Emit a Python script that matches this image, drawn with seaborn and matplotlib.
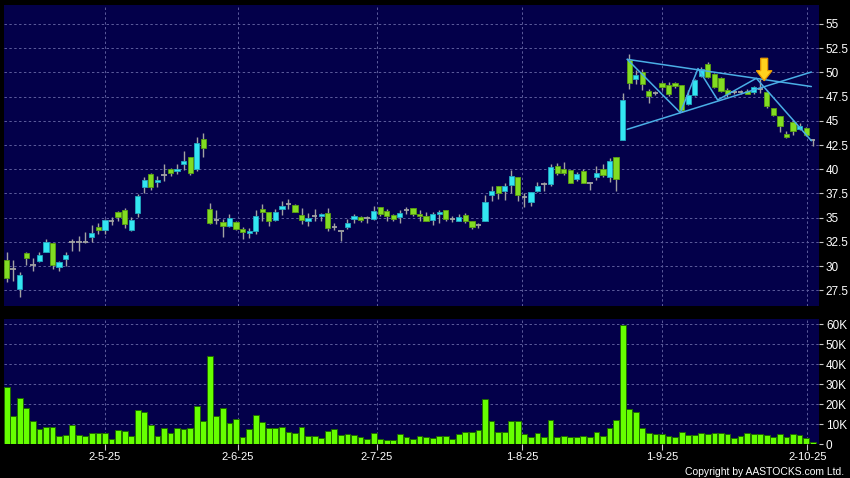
import numpy as np
import pandas as pd
import matplotlib
matplotlib.use("Agg")
import matplotlib.pyplot as plt
import seaborn as sns

# ---------------- data ----------------
opens = [30.6, 29.7, 27.6, 31.3, 30.1, 30.5, 31.4, 32.4, 29.9, 30.7,
         32.5, 32.5, 32.5, 33.0, 34.0, 33.7, 34.7, 35.6, 35.8, 33.7,
         35.45, 38.2, 39.55, 38.7, 39.4, 40.0, 39.85, 40.5, 41.3, 40.05,
         43.1, 35.9, 34.8, 34.5, 34.1, 34.5, 33.85, 33.4, 33.6, 35.9,
         35.6, 34.8, 35.9, 36.4, 36.35, 35.3, 34.65, 35.15, 35.15, 35.5,
         34.0, 33.6, 34.0, 34.85, 35.1, 35.0, 34.9, 36.05, 35.7, 35.3,
         35.1, 35.75, 35.95, 35.4, 35.2, 34.8, 35.4, 35.8, 34.85, 34.7,
         35.3, 34.6, 34.25, 34.6, 37.3, 38.3, 37.8, 38.4, 39.15, 37.1,
         36.65, 37.8, 38.45, 38.45, 40.35, 40.0, 39.9, 38.95, 39.8, 38.6,
         39.15, 40.0, 39.15, 41.3, 43.0, 51.25, 49.3, 50.0, 48.05, 47.9,
         48.9, 48.7, 48.9, 48.7, 46.75, 47.7, 49.6, 50.9, 49.8, 49.4,
         48.2, 48.0, 48.0, 48.1, 47.95, 48.3, 47.95, 46.3, 45.45, 43.65,
         44.85, 44.2, 44.3, 43.05]
highs = [31.5, 30.6, 29.4, 31.5, 30.8, 31.5, 32.8, 32.4, 30.5, 31.4,
         32.8, 33.1, 33.5, 34.2, 34.4, 34.9, 35.1, 35.7, 36.0, 35.1,
         37.4, 39.2, 39.6, 39.3, 40.5, 40.1, 40.5, 41.9, 41.3, 43.3,
         43.7, 36.5, 35.8, 34.9, 35.4, 34.65, 34.0, 33.95, 35.8, 36.4,
         35.6, 35.9, 36.7, 36.9, 36.45, 36.0, 35.5, 35.9, 35.5, 35.95,
         34.45, 33.6, 34.85, 35.35, 35.2, 35.2, 36.25, 36.1, 35.9, 35.4,
         35.8, 36.1, 35.95, 35.75, 35.6, 35.6, 35.8, 35.8, 35.2, 35.35,
         35.5, 34.7, 34.45, 37.35, 38.3, 38.3, 38.55, 39.9, 39.15, 37.5,
         37.65, 38.7, 38.7, 40.5, 40.6, 40.7, 39.9, 39.7, 40.0, 38.7,
         40.3, 40.5, 41.2, 41.3, 47.85, 51.9, 50.2, 50.35, 48.25, 48.1,
         49.05, 49.05, 49.05, 48.7, 48.2, 49.3, 50.6, 51.1, 49.95, 49.5,
         48.4, 48.2, 48.2, 48.3, 48.6, 49.3, 48.2, 46.3, 45.5, 43.9,
         45.05, 44.75, 44.4, 43.15]
lows = [28.3, 28.5, 26.8, 30.1, 29.5, 30.4, 31.4, 29.7, 29.5, 30.0,
        31.6, 31.6, 32.4, 32.5, 33.3, 33.3, 34.2, 34.7, 33.9, 33.6,
        35.1, 37.5, 37.85, 38.2, 38.75, 39.3, 39.5, 39.9, 39.4, 39.85,
        41.3, 34.3, 34.3, 33.0, 34.0, 33.7, 32.8, 32.9, 33.3, 34.6,
        34.1, 34.65, 35.3, 35.9, 35.55, 34.3, 34.1, 34.65, 34.65, 33.6,
        33.7, 32.6, 33.8, 34.45, 34.5, 34.45, 34.8, 35.2, 34.65, 34.65,
        34.45, 35.4, 35.15, 34.65, 34.65, 34.25, 34.45, 34.7, 34.5, 34.65,
        34.4, 33.8, 33.95, 34.6, 36.75, 36.95, 36.8, 37.5, 36.75, 36.1,
        36.25, 37.65, 37.7, 38.25, 39.4, 39.4, 38.55, 38.8, 38.55, 37.85,
        38.9, 39.15, 38.7, 37.8, 43.0, 48.3, 48.8, 48.15, 46.8, 47.7,
        48.2, 47.6, 48.35, 45.95, 46.65, 47.6, 49.5, 49.4, 48.35, 47.95,
        47.5, 47.8, 47.8, 47.85, 47.8, 47.85, 46.3, 45.45, 43.8, 43.2,
        43.55, 44.05, 43.4, 42.4]
closes = [28.8, 29.7, 29.1, 30.8, 30.1, 31.1, 32.5, 30.1, 30.4, 31.1,
          32.5, 32.5, 32.5, 33.4, 33.7, 34.8, 34.7, 35.1, 34.3, 34.8,
          37.2, 38.9, 38.2, 38.9, 39.4, 39.6, 40.05, 40.9, 39.6, 42.75,
          42.2, 34.4, 34.8, 34.1, 35.0, 33.8, 33.5, 33.6, 35.2, 35.6,
          34.6, 35.55, 36.25, 36.4, 35.6, 34.8, 35.0, 35.15, 35.35, 33.95,
          34.0, 33.6, 34.4, 35.15, 34.8, 35.0, 35.65, 35.4, 35.2, 34.85,
          35.5, 35.75, 35.4, 35.2, 34.7, 35.4, 35.6, 34.85, 34.85, 35.05,
          34.6, 34.0, 34.25, 36.65, 37.7, 37.5, 38.25, 39.3, 37.3, 37.1,
          37.65, 38.25, 38.45, 40.2, 39.6, 39.65, 38.6, 39.5, 38.6, 38.6,
          39.6, 39.45, 40.85, 39.0, 47.15, 48.95, 49.7, 48.8, 47.6, 47.9,
          48.5, 47.8, 48.55, 46.15, 47.7, 49.25, 50.35, 49.5, 48.5, 48.05,
          47.8, 48.0, 48.0, 47.8, 48.45, 48.3, 46.5, 45.6, 44.5, 43.3,
          43.9, 44.5, 43.55, 43.05]
volumes_k = [28.5, 14.2, 22.9, 18.1, 11.4, 7.4, 8.7, 8.4, 4.0, 4.7,
             9.7, 4.5, 3.9, 5.4, 5.4, 5.7, 2.7, 7.0, 6.7, 4.0,
             16.8, 15.9, 9.7, 4.2, 8.0, 5.4, 8.0, 7.5, 8.0, 18.9,
             11.4, 44.1, 14.1, 17.9, 10.6, 12.4, 3.7, 7.7, 14.6, 11.1,
             8.0, 8.0, 8.5, 6.0, 5.7, 8.4, 4.2, 4.2, 3.0, 6.7,
             7.4, 4.7, 5.0, 4.7, 3.7, 2.7, 5.4, 2.5, 2.2, 2.0,
             5.2, 3.4, 2.3, 4.0, 3.7, 3.0, 4.2, 4.2, 2.7, 4.9,
             6.0, 6.2, 6.9, 22.3, 11.7, 6.2, 6.1, 11.3, 11.3, 4.8,
             3.6, 5.4, 3.5, 11.8, 3.3, 4.2, 3.7, 3.3, 4.1, 3.5,
             5.8, 3.9, 8.2, 11.8, 59.5, 17.3, 16.2, 8.2, 5.5, 4.8,
             5.2, 3.8, 3.5, 6.2, 4.3, 4.3, 5.3, 4.8, 5.3, 5.3,
             5.2, 3.0, 4.0, 5.5, 5.2, 5.0, 4.7, 3.7, 4.8, 3.5,
             5.0, 4.3, 3.0, 0.8]

date_labels = ["2-5-25", "2-6-25", "2-7-25", "1-8-25", "1-9-25", "2-10-25"]
date_pos = [15.0, 35.3, 56.5, 78.7, 100.0, 122.2]
price_ticks = [27.5, 30, 32.5, 35, 37.5, 40, 42.5, 45, 47.5, 50, 52.5, 55]
vol_ticks = [0, 10, 20, 30, 40, 50, 60]
vol_labels = ["0", "10K", "20K", "30K", "40K", "50K", "60K"]

# pattern annotations (index, price)
zigzag_x = [94.7, 102.8, 105.5, 108.5, 114.4, 122.8]
zigzag_y = [51.35, 45.84, 50.4, 47.15, 49.39, 42.94]
upper_x = [94.7, 122.8]
upper_y = [51.35, 48.54]
lower_x = [94.7, 122.8]
lower_y = [44.12, 50.04]
arrow_x = 115.6
arrow_tip = 49.14
arrow_neck = 50.18
arrow_top = 51.46

# ---------------- style ----------------
sns.set_style("dark")
plt.rcParams["font.family"] = ["Liberation Sans", "DejaVu Sans"]

NAVY = "#03004a"
GRID = "#5c5c9c"
GREEN = "#82dc22"
GREEN_E = "#5aa010"
CYAN = "#33e6f2"
CYAN_E = "#22a8c0"
GRAY = "#a2a2a2"
LINE = "#4aaee6"

df = pd.DataFrame({"i": np.arange(len(opens)), "open": opens, "high": highs,
                   "low": lows, "close": closes, "vol": volumes_k})

fig = plt.figure(figsize=(8.5, 4.78), dpi=100, facecolor="black")
axp = fig.add_axes([0.0047, 0.3598, 0.9588, 0.6297])
axv = fig.add_axes([0.0047, 0.0711, 0.9588, 0.2615])

for ax in (axp, axv):
    ax.set_facecolor(NAVY)
    for s in ax.spines.values():
        s.set_visible(False)
    ax.set_axisbelow(True)
    ax.grid(True, color=GRID, linestyle=(0, (2.5, 2.5)), linewidth=0.7)

# ---------------- candles ----------------
axp.vlines(df["i"], df["low"], df["high"], color=GRAY, linewidth=1.0, zorder=2)
up = df[df["close"] > df["open"]]
dn = df[df["close"] < df["open"]]
dj = df[df["close"] == df["open"]]
axp.bar(up["i"], up["close"] - up["open"], bottom=up["open"], width=0.8,
        color=CYAN, edgecolor=CYAN_E, linewidth=0.6, zorder=3)
axp.bar(dn["i"], dn["open"] - dn["close"], bottom=dn["close"], width=0.8,
        color=GREEN, edgecolor=GREEN_E, linewidth=0.6, zorder=3)
axp.hlines(dj["open"], dj["i"] - 0.42, dj["i"] + 0.42, color=GRAY, linewidth=1.3, zorder=3)

# pattern lines
axp.plot(upper_x, upper_y, color=LINE, linewidth=1.1, zorder=4)
axp.plot(lower_x, lower_y, color=LINE, linewidth=1.1, zorder=4)
axp.plot(zigzag_x, zigzag_y, color=LINE, linewidth=1.1, zorder=4)

# arrow
ax_pts = [arrow_x - 0.53, arrow_x + 0.53, arrow_x + 0.53, arrow_x + 1.19,
          arrow_x, arrow_x - 1.19, arrow_x - 0.53]
ay_pts = [arrow_top, arrow_top, arrow_neck, arrow_neck, arrow_tip, arrow_neck, arrow_neck]
axp.fill(ax_pts, ay_pts, facecolor="#ffd21e", edgecolor="#e89a00", linewidth=0.9, zorder=6)

axp.set_xlim(-0.41, 123.96)
axp.set_ylim(25.87, 56.96)
axp.set_xticks(date_pos)
axp.tick_params(axis="x", length=0, labelbottom=False)
axp.yaxis.tick_right()
axp.set_yticks(price_ticks)
axp.set_yticklabels([f"{v:g}" for v in price_ticks])
axp.tick_params(axis="y", length=3, width=0.8, color="#c8c8c8", pad=2,
                labelsize=8.5, labelcolor="white")

# ---------------- volume ----------------
sns.barplot(data=df, x="i", y="vol", ax=axv, native_scale=True, color="#66ff00",
            saturation=1, edgecolor="#1f6a00", linewidth=0.7, width=0.88,
            errorbar=None, zorder=3)
axv.set_xlim(-0.41, 123.96)
axv.set_ylim(0, 62.5)
axv.set_xlabel("")
axv.set_ylabel("")
axv.set_xticks(date_pos)
axv.set_xticklabels(date_labels)
axv.tick_params(axis="x", length=4, width=0.8, color="#c8c8c8", pad=2,
                labelsize=8, labelcolor="white", bottom=True)
axv.yaxis.tick_right()
axv.set_yticks(vol_ticks)
axv.set_yticklabels(vol_labels)
axv.tick_params(axis="y", length=3, width=0.8, color="#c8c8c8", pad=2,
                labelsize=8.5, labelcolor="white", right=True, left=False)

fig.text(0.993, 0.0063, "Copyright by AASTOCKS.com Ltd.", ha="right", va="baseline",
         color="white", fontsize=7.5)

fig.savefig("out.png", dpi=100, facecolor="black")
